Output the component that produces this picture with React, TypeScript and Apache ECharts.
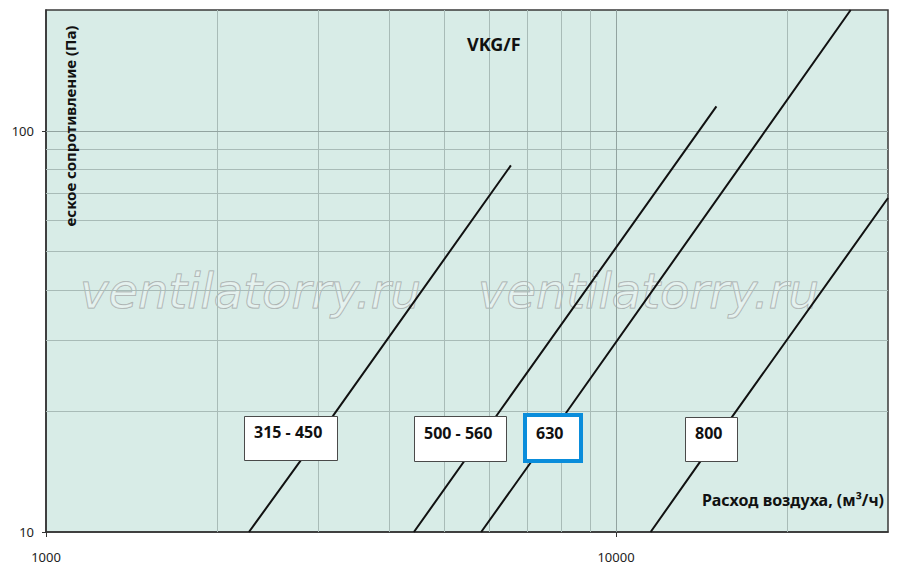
import React, { useEffect, useRef } from 'react';
import * as echarts from 'echarts';

// curve names (as on the label boxes) and points: [m³/h, Pa]
const curveNames = ['315 - 450', '500 - 560', '630', '800'];
const curve315 = [[2270, 10], [3190, 19.5], [6540, 82]];
const curve500 = [[4420, 10], [6250, 20], [15000, 115]];
const curve630 = [[5800, 10], [8170, 19.8], [25800, 200]];
const curve800 = [[11500, 10], [14060, 15], [30000, 68]];

// grid lines and tick labels
const xMajorLines = [10000];
const yMajorLines = [100];
const xMinorLines = [2000, 3000, 4000, 5000, 6000, 7000, 8000, 9000, 20000];
const yMinorLines = [20, 30, 40, 50, 60, 70, 80, 90];
const xTickLabels = [1000, 10000];
const yTickLabels = [10, 100];

const FONT = 'Noto Sans';

const labelBox = (x: number, y: number, w: number, h: number, text: string, tx: number, ty: number, blue = false) => ({
  type: 'group',
  children: [
    {
      type: 'rect',
      z: 100,
      shape: { x, y, width: w, height: h },
      style: { fill: '#ffffff', stroke: blue ? '#0a8ddb' : '#4a4a4a', lineWidth: blue ? 4 : 1 },
    },
    {
      type: 'text',
      z: 101,
      x: tx,
      y: ty,
      style: { text, fontSize: 16, fontWeight: 'bold', fontFamily: FONT, fill: '#111', verticalAlign: 'middle' },
    },
  ],
});

const watermark = (x: number) => ({
  type: 'text',
  x,
  y: 291,
  z: 1,
  silent: true,
  style: {
    text: 'ventilatorry.ru',
    fontSize: 48,
    fontStyle: 'italic',
    fontFamily: 'DejaVu Sans',
    fill: 'rgba(255,255,255,0.35)',
    stroke: '#a3abaa',
    lineWidth: 1,
    verticalAlign: 'middle',
  },
});

const curveSeries = (name: string, data: number[][]) => ({
  name,
  type: 'line',
  data,
  showSymbol: false,
  silent: true,
  clip: true,
  z: 3,
  lineStyle: { color: '#111', width: 2 },
});

const App: React.FC = () => {
  const chartRef = useRef<HTMLDivElement>(null);

  useEffect(() => {
    if (!chartRef.current) return;
    const chart = echarts.init(chartRef.current, null, { renderer: 'svg' });

    const gridLine = (color: string) => ({ color, width: 1, type: 'solid' });

    const option = {
      animation: false,
      title: {
        text: 'VKG/F',
        left: 462,
        top: 30,
        textStyle: { fontSize: 18, fontWeight: 'bold', fontFamily: FONT, color: '#111' },
      },
      grid: {
        left: 46,
        right: 12,
        top: 10,
        bottom: 49,
        show: true,
        backgroundColor: '#d8ece7',
        borderColor: '#3a3a3a',
        borderWidth: 1.5,
      },
      xAxis: {
        type: 'log',
        logBase: 10,
        min: 1000,
        max: 30000,
        axisLine: { show: true, lineStyle: { color: '#333', width: 1.5 } },
        axisTick: { show: true, length: 5, lineStyle: { color: '#333' } },
        axisLabel: {
          margin: 18,
          fontSize: 13,
          fontFamily: FONT,
          color: '#222',
          showMaxLabel: false,
          formatter: (v: number) => (xTickLabels.includes(Math.round(v)) ? String(Math.round(v)) : ''),
        },
        splitLine: { show: false },
      },
      yAxis: {
        type: 'log',
        logBase: 10,
        min: 10,
        max: 200,
        axisLine: { show: true, lineStyle: { color: '#333', width: 1.5 } },
        axisTick: { show: true, length: 4, lineStyle: { color: '#333' } },
        axisLabel: {
          margin: 12,
          fontSize: 13,
          fontFamily: FONT,
          color: '#222',
          showMaxLabel: false,
          formatter: (v: number) => (yTickLabels.includes(Math.round(v)) ? String(Math.round(v)) : ''),
        },
        splitLine: { show: false },
      },
      series: [
        {
          ...curveSeries(curveNames[0], curve315),
          markLine: {
            silent: true,
            z: 1,
            symbol: ['none', 'none'],
            label: { show: false },
            lineStyle: gridLine('#a8bbb7'),
            data: [
              ...xMinorLines.map((v) => ({ xAxis: v })),
              ...yMinorLines.map((v) => ({ yAxis: v })),
              ...xMajorLines.map((v) => ({ xAxis: v, lineStyle: gridLine('#92a3a0') })),
              ...yMajorLines.map((v) => ({ yAxis: v, lineStyle: gridLine('#92a3a0') })),
            ],
          },
        },
        curveSeries(curveNames[1], curve500),
        curveSeries(curveNames[2], curve630),
        curveSeries(curveNames[3], curve800),
      ],
      graphic: [
        watermark(80),
        watermark(478),
        {
          type: 'text',
          x: 70,
          y: 126,
          rotation: Math.PI / 2,
          z: 50,
          style: {
            text: 'еское сопротивление (Па)',
            fontSize: 15,
            fontWeight: 'bold',
            fontFamily: FONT,
            fill: '#111',
            align: 'center',
            verticalAlign: 'middle',
          },
        },
        {
          type: 'text',
          x: 884,
          y: 500,
          z: 50,
          style: {
            text: 'Расход воздуха, (м³/ч)',
            fontSize: 16,
            fontWeight: 'bold',
            fontFamily: FONT,
            fill: '#111',
            align: 'right',
            verticalAlign: 'middle',
          },
        },
        labelBox(244.5, 416.5, 93, 44, curveNames[0], 254, 432),
        labelBox(414.5, 416.5, 92, 45, curveNames[1], 424, 433),
        labelBox(525, 415, 56, 46, curveNames[2], 536, 433, true),
        labelBox(685.5, 417.5, 52, 44, curveNames[3], 695, 433),
      ],
    };

    chart.setOption(option);
    return () => {
      chart.dispose();
    };
  }, []);

  return <div ref={chartRef} style={{ position: 'absolute', left: 0, top: 0, width: 900, height: 581 }} />;
};

export default App;
